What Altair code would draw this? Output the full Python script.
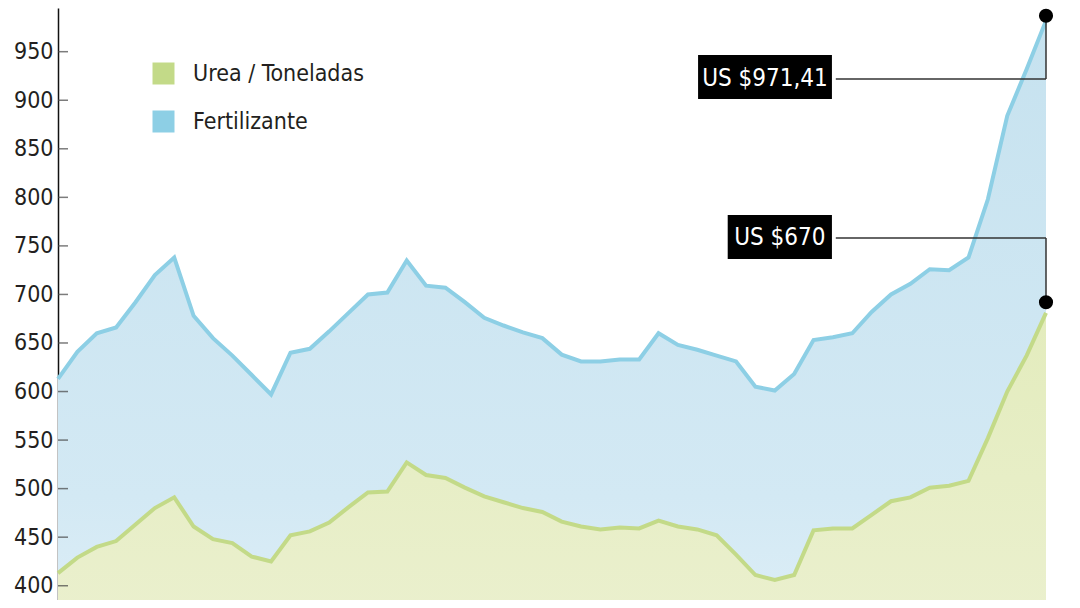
import altair as alt
import pandas as pd

# ---- data ----
series_names = ["Urea / Toneladas", "Fertilizante"]

fertilizante = [613, 641, 660, 666, 692, 720, 738, 678, 655, 637, 617, 597, 640,
                644, 662, 681, 700, 702, 735, 709, 707, 692, 676, 668, 661, 655,
                638, 631, 631, 633, 633, 660, 648, 643, 637, 631, 605, 601, 618,
                653, 656, 660, 682, 700, 711, 726, 725, 738, 798, 884, 932, 982]

urea = [413, 429, 440, 446, 463, 480, 491, 461, 448, 444, 430, 425, 452,
        456, 465, 481, 496, 497, 527, 514, 511, 501, 492, 486, 480, 476,
        466, 461, 458, 460, 459, 467, 461, 458, 452, 432, 411, 406, 411,
        457, 459, 459, 473, 487, 491, 501, 503, 508, 552, 600, 637, 681]

y_ticks = [400, 450, 500, 550, 600, 650, 700, 750, 800, 850, 900, 950]

# annotations
ann_text = ["US $971,41", "US $670"]
ann_line_y = [922, 758]          # level of the connector line / label centre
ann_dot_y = [987, 692]           # dot at the end of each series
ann_box_x1 = [33.04, 34.57]
ann_box_x2 = [39.95, 39.95]
ann_box_y1 = [901.2, 736.5]
ann_box_y2 = [946.5, 781.8]
ann_line_x1 = [40.15, 40.15]

idx = list(range(len(fertilizante)))
last = idx[-1]

df_f = pd.DataFrame({"idx": idx, "valor": fertilizante, "serie": series_names[1]})
df_u = pd.DataFrame({"idx": idx, "valor": urea, "serie": series_names[0]})
df_all = pd.concat([df_u, df_f], ignore_index=True)
df_ticks = pd.DataFrame({"valor": y_ticks})
df_ann = pd.DataFrame({
    "text": ann_text,
    "ly": ann_line_y,
    "dy": ann_dot_y,
    "bx1": ann_box_x1, "bx2": ann_box_x2,
    "by1": ann_box_y1, "by2": ann_box_y2,
    "lx1": ann_line_x1,
    "lx2": [last, last],
    "cx": [(a + b) / 2 for a, b in zip(ann_box_x1, ann_box_x2)],
})

FONT = "Liberation Sans Narrow, DejaVu Sans Condensed, Roboto Condensed, Open Sans Condensed, Liberation Sans, sans-serif"
YMIN, YMAX = 385.3, 995
xscale = alt.Scale(domain=[0, last], nice=False, zero=False)
yscale = alt.Scale(domain=[YMIN, YMAX], nice=False, zero=False)

blue_grad = alt.Gradient(
    gradient="linear",
    stops=[alt.GradientStop(color="#c6e2ef", offset=0),
           alt.GradientStop(color="#d3e9f4", offset=0.5),
           alt.GradientStop(color="#e5f2f9", offset=0.75),
           alt.GradientStop(color="#f5fafd", offset=1)],
    x1=1, x2=1, y1=0, y2=1)
green_grad = alt.Gradient(
    gradient="linear",
    stops=[alt.GradientStop(color="#e3ecbd", offset=0),
           alt.GradientStop(color="#f3f4e1", offset=1)],
    x1=1, x2=1, y1=0, y2=1)

X = alt.X("idx:Q", scale=xscale, axis=None, title=None)

area_f = alt.Chart(df_f).mark_area(fill=blue_grad).encode(
    x=X,
    y=alt.Y("valor:Q", scale=yscale, title=None,
            axis=alt.Axis(values=y_ticks, ticks=False, grid=False,
                          domain=True, domainColor="#111", domainWidth=1.5,
                          labelFont=FONT, labelFontSize=23, labelColor="#231f20",
                          labelPadding=5)),
)
area_u = alt.Chart(df_u).mark_area(fill=green_grad).encode(
    x=X, y=alt.Y("valor:Q", scale=yscale, title=None))

lines = alt.Chart(df_all).mark_line(strokeWidth=4, strokeJoin="miter").encode(
    x=X,
    y=alt.Y("valor:Q", scale=yscale, title=None),
    color=alt.Color("serie:N",
                    scale=alt.Scale(domain=series_names, range=["#c3da88", "#8dcfe5"]),
                    legend=alt.Legend(orient="none", legendX=94, legendY=54,
                                      title=None, symbolType="square",
                                      symbolSize=121, symbolStrokeWidth=11,
                                      labelFont=FONT, labelFontSize=23,
                                      labelColor="#231f20", labelOffset=18,
                                      labelLimit=0, rowPadding=-7, padding=0)),
)

inner_ticks = alt.Chart(df_ticks).mark_tick(color="#444", thickness=1.5, size=10).encode(
    y=alt.Y("valor:Q", scale=yscale, title=None),
    x=alt.value(5),
)

boxes = alt.Chart(df_ann).mark_rect(color="black").encode(
    x=alt.X("bx1:Q", scale=xscale, axis=None), x2="bx2:Q",
    y=alt.Y("by1:Q", scale=yscale, title=None), y2="by2:Q")

texts = alt.Chart(df_ann).mark_text(color="white", font=FONT, fontSize=24,
                                    align="center", baseline="middle").encode(
    x=alt.X("cx:Q", scale=xscale, axis=None),
    y=alt.Y("ly:Q", scale=yscale, title=None),
    text="text:N")

hrules = alt.Chart(df_ann).mark_rule(color="#333", strokeWidth=1.5).encode(
    x=alt.X("lx1:Q", scale=xscale, axis=None), x2="lx2:Q",
    y=alt.Y("ly:Q", scale=yscale, title=None))

vrules = alt.Chart(df_ann).mark_rule(color="#333", strokeWidth=1.5).encode(
    x=alt.X("lx2:Q", scale=xscale, axis=None),
    y=alt.Y("ly:Q", scale=yscale, title=None), y2="dy:Q")

dots = alt.Chart(df_ann).mark_circle(color="black", size=200, opacity=1).encode(
    x=alt.X("lx2:Q", scale=xscale, axis=None),
    y=alt.Y("dy:Q", scale=yscale, title=None))

chart = alt.layer(area_f, area_u, lines, inner_ticks, hrules, vrules, boxes, texts, dots).properties(
    width=988, height=592,
    padding={"left": 50, "top": 0, "right": 20, "bottom": 0},
    autosize=alt.AutoSizeParams(type="none"),
    background="white",
).configure_view(stroke=None)

chart.save("out.html", embed_options={"renderer": "svg", "actions": False})
